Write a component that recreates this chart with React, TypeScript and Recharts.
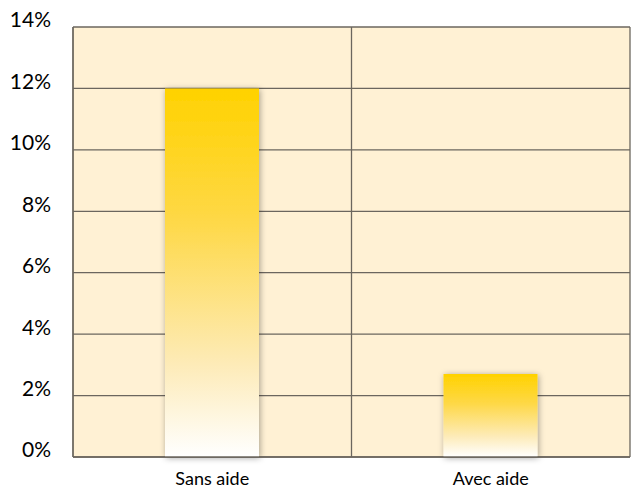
import { BarChart, Bar, XAxis, YAxis, CartesianGrid } from "recharts";

const categories = ["Sans aide", "Avec aide"];
const values = [0.12, 0.027];
const yTicks = [0, 0.02, 0.04, 0.06, 0.08, 0.1, 0.12, 0.14];

const data = categories.map((name, i) => ({ name, value: values[i] }));

const font = "Lato, 'Open Sans', sans-serif";
const gridColor = "#6b665e";

// y labels sit a little above their gridline in the reference
function YTick({ x, y, payload }: any) {
  return (
    <text
      x={x}
      y={y - 7}
      dy="0.355em"
      textAnchor="end"
      fill="#000"
      fontSize={21}
      fontFamily={font}
    >
      {`${Math.round(payload.value * 100)}%`}
    </text>
  );
}

export default function App() {
  return (
    <div style={{ position: "absolute", left: 0, top: 0, background: "#fff" }}>
      <BarChart
        width={632}
        height={488}
        data={data}
        margin={{ top: 27, right: 2, left: 0, bottom: 0 }}
      >
        <defs>
          <linearGradient id="barGrad" x1="0" y1="0" x2="0" y2="1">
            <stop offset="0%" stopColor="#FFD200" />
            <stop offset="35%" stopColor="#FED845" />
            <stop offset="75%" stopColor="#FDEBB8" />
            <stop offset="100%" stopColor="#FFFFFF" />
          </linearGradient>
          <filter id="barShadow" x="-20%" y="-20%" width="140%" height="140%">
            <feDropShadow dx="1" dy="1" stdDeviation="3" floodColor="#000" floodOpacity="0.35" />
          </filter>
        </defs>
        <CartesianGrid
          fill="#FFF1D4"
          fillOpacity={1}
          stroke={gridColor}
          strokeWidth={1.3}
          verticalCoordinatesGenerator={({ offset }: any) => [
            offset.left,
            offset.left + offset.width / 2,
            offset.left + offset.width,
          ]}
        />
        <XAxis
          dataKey="name"
          height={31}
          axisLine={{ stroke: gridColor, strokeWidth: 1.3 }}
          tickLine={false}
          tick={{ fill: "#000", fontSize: 18, fontFamily: font }}
          tickMargin={9}
        />
        <YAxis
          width={73}
          domain={[0, 0.14]}
          ticks={yTicks}
          axisLine={{ stroke: gridColor, strokeWidth: 1.3 }}
          tickLine={false}
          tick={<YTick />}
          tickMargin={16}
        />
        <Bar
          dataKey="value"
          barSize={94}
          fill="url(#barGrad)"
          filter="url(#barShadow)"
          isAnimationActive={false}
        />
      </BarChart>
    </div>
  );
}
